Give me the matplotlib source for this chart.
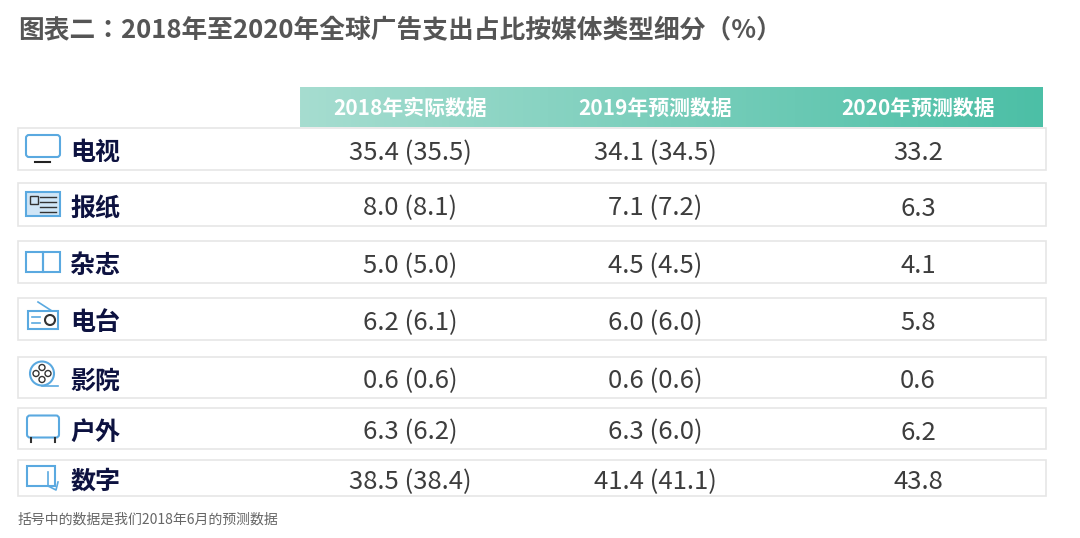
import matplotlib
matplotlib.use("Agg")
import matplotlib.pyplot as plt
import numpy as np
from matplotlib.patches import Rectangle, Circle, FancyBboxPatch
from matplotlib.colors import LinearSegmentedColormap

CJK = ["Noto Sans CJK SC", "Noto Sans CJK JP", "Noto Sans CJK TC", "DejaVu Sans"]
plt.rcParams["font.family"] = CJK

title = "图表二：2018年至2020年全球广告支出占比按媒体类型细分（%）"
columns = ["2018年实际数据", "2019年预测数据", "2020年预测数据"]
categories = ["电视", "报纸", "杂志", "电台", "影院", "户外", "数字"]
actual_2018 = [35.4, 8.0, 5.0, 6.2, 0.6, 6.3, 38.5]
prior_2018 = [35.5, 8.1, 5.0, 6.1, 0.6, 6.2, 38.4]
forecast_2019 = [34.1, 7.1, 4.5, 6.0, 0.6, 6.3, 41.4]
prior_2019 = [34.5, 7.2, 4.5, 6.0, 0.6, 6.0, 41.1]
forecast_2020 = [33.2, 6.3, 4.1, 5.8, 0.6, 6.2, 43.8]
footnote = "括号中的数据是我们2018年6月的预测数据"

W, H = 1080, 538
fig = plt.figure(figsize=(W / 100, H / 100), dpi=100)
ax = fig.add_axes([0, 0, 1, 1])
ax.set_xlim(0, W)
ax.set_ylim(H, 0)
ax.axis("off")

ax.text(18, 31, title, fontsize=18.5, fontweight="bold", color="#555555", va="center", ha="left")

grad = np.linspace(0, 1, 256).reshape(1, -1)
cm = LinearSegmentedColormap.from_list("g", ["#a6ddd0", "#4cbfa6"])
ax.imshow(grad, cmap=cm, extent=(300, 1043, 127, 87), aspect="auto", zorder=1)
col_x = [410, 655, 918]
for x, c in zip(col_x, columns):
    ax.text(x, 108, c, fontsize=15, fontweight="bold", color="white", ha="center", va="center", zorder=2)

row_top = [128, 183, 241, 298, 357, 408, 460]
row_bot = [170, 226, 283, 340, 398, 449, 496]
icol = "#5aa9e0"
for i, cat in enumerate(categories):
    t, b = row_top[i], row_bot[i]
    yc = (t + b) / 2
    ty = yc + 4
    ax.add_patch(Rectangle((18, t), 1028, b - t, fill=False, ec="#e6e6e6", lw=1.2))
    if i == 0:
        ax.add_patch(FancyBboxPatch((26, yc - 14), 34, 22, boxstyle="round,pad=0,rounding_size=3", fill=False, ec=icol, lw=1.5))
        ax.plot([35, 50], [yc + 13, yc + 13], color="#222", lw=1.5)
    elif i == 1:
        ax.add_patch(Rectangle((26, yc - 13), 34, 24, fc="#cfe5f6", ec=icol, lw=1.5))
        for k in range(4):
            ax.plot([40, 56], [yc - 8 + k * 5, yc - 8 + k * 5], color="#333", lw=1)
        ax.add_patch(Rectangle((30, yc - 9), 8, 8, fill=False, ec="#333", lw=1))
    elif i == 2:
        ax.add_patch(Rectangle((26, yc - 10), 17, 20, fill=False, ec=icol, lw=1.5))
        ax.add_patch(Rectangle((43, yc - 10), 17, 20, fill=False, ec=icol, lw=1.5))
    elif i == 3:
        ax.add_patch(Rectangle((28, yc - 8), 30, 18, fill=False, ec=icol, lw=1.5))
        ax.plot([38, 52], [yc - 17, yc - 8], color=icol, lw=1.2)
        ax.add_patch(Circle((50, yc + 1), 5, fill=False, ec="#333", lw=1.5))
        ax.plot([32, 40], [yc - 2, yc - 2], color=icol, lw=1.2)
        ax.plot([32, 40], [yc + 4, yc + 4], color=icol, lw=1.2)
    elif i == 4:
        ax.add_patch(Circle((42, yc - 4), 12, fill=False, ec=icol, lw=1.5))
        for dx, dy in [(0, -6), (0, 6), (-6, 0), (6, 0)]:
            ax.add_patch(Circle((42 + dx, yc - 4 + dy), 3, fill=False, ec="#333", lw=1))
        ax.plot([42, 58], [yc + 8, yc + 8], color=icol, lw=1.2)
    elif i == 5:
        ax.add_patch(FancyBboxPatch((27, yc - 13), 32, 22, boxstyle="round,pad=0,rounding_size=3", fill=False, ec=icol, lw=1.5))
        ax.plot([31, 31], [yc + 9, yc + 13], color="#333", lw=1.5)
        ax.plot([55, 55], [yc + 9, yc + 13], color="#333", lw=1.5)
    else:
        ax.add_patch(Rectangle((27, yc - 12), 28, 20, fill=False, ec=icol, lw=1.5))
        ax.plot([48, 48, 56, 58], [yc - 6, yc + 8, yc + 12, yc + 4], color=icol, lw=1.2)
    ax.text(70, ty, cat, fontsize=18, fontweight="bold", color="#0d1240", ha="left", va="center")
    kw = dict(fontsize=18.5, color="#3d3d3d", ha="center", va="center")
    ax.text(col_x[0], ty, f"{actual_2018[i]:.1f} ({prior_2018[i]:.1f})", **kw)
    ax.text(col_x[1], ty, f"{forecast_2019[i]:.1f} ({prior_2019[i]:.1f})", **kw)
    ax.text(col_x[2], ty, f"{forecast_2020[i]:.1f}", **kw)

ax.text(18, 520, footnote, fontsize=10, color="#666666", ha="left", va="center")

fig.savefig("out.png", dpi=100)
